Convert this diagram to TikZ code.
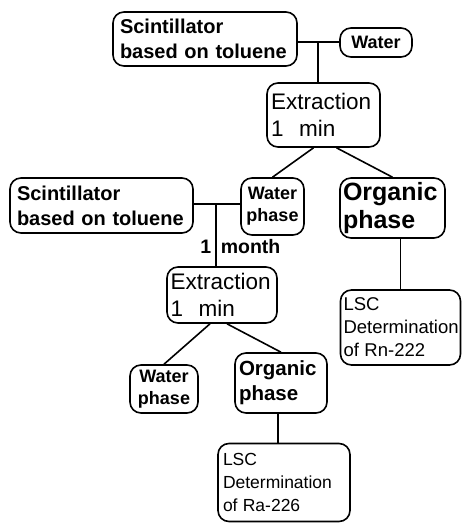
\documentclass[tikz,border=0pt]{standalone}
\usepackage{fontspec}
\setmainfont{Liberation Sans}
\begin{document}
\begin{tikzpicture}[x=1pt,y=-1pt,line width=1.6pt,
  box/.style={draw,rounded corners=11pt,inner xsep=6pt,inner ysep=2pt,align=left},
  bigb/.style={font=\bfseries\fontsize{20}{25}\selectfont},
  exf/.style={font=\fontsize{22.5}{27}\selectfont},
  smb/.style={font=\bfseries\fontsize{18}{22}\selectfont},
  lscf/.style={font=\fontsize{18.5}{23}\selectfont},
  lbl/.style={font=\bfseries\fontsize{19.5}{20}\selectfont,inner sep=1pt}]
\useasboundingbox (0,0) rectangle (462,523);
% nodes
\node[box,bigb,minimum width=184,minimum height=54,text width=170] (s1) at (205,39) {Scintillator\\based on toluene};
\node[box,font=\bfseries\fontsize{18}{20}\selectfont,minimum width=72,minimum height=29,inner xsep=4pt,align=center] (water) at (376,42.5) {Water};
\node[box,exf,minimum width=113,minimum height=64,text width=105,inner xsep=4pt] (ex1) at (323.5,115) {Extraction\\1\hspace{0.7em}min};
\node[box,smb,minimum width=63,minimum height=57,inner xsep=2pt,align=center] (wp1) at (272.5,206.5) {Water\\phase};
\node[box,font=\bfseries\fontsize{25}{28}\selectfont,minimum width=105,minimum height=60,text width=99,inner xsep=3pt] (op1) at (392.5,208) {Organic\\phase};
\node[box,bigb,minimum width=183,minimum height=55,text width=169] (s2) at (101.5,205.5) {Scintillator\\based on toluene};
\node[box,exf,minimum width=110,minimum height=56,text width=103,inner xsep=3.5pt] (ex2) at (222,295) {Extraction\\1\hspace{0.7em}min};
\node[box,lscf,minimum width=120,minimum height=75,text width=114,inner xsep=3pt] (lsc1) at (400.5,327.5) {LSC\\Determination\\of\hspace{0.3em}Rn-222};
\node[box,smb,minimum width=68,minimum height=48,inner xsep=4pt,align=center] (wp2) at (164,389) {Water\\phase};
\node[box,font=\bfseries\fontsize{20.5}{25}\selectfont,minimum width=92,minimum height=60,text width=84,inner xsep=4pt] (op2) at (281,383) {Organic\\phase};
\node[box,font=\fontsize{17.5}{23}\selectfont,minimum width=132,minimum height=78,text width=122,inner xsep=5pt] (lsc2) at (284,482.5) {LSC\\Determination\\of\hspace{0.3em}Ra-226};
% junctions
\coordinate (j1) at (318,42);
\coordinate (j2) at (216,204);
% connectors
\draw (j1 -| s1.east) -- (j1 -| water.west);
\draw (j1) -- (j1 |- ex1.north);
\draw ([xshift=-10pt]ex1.south) -- (wp1.north);
\draw ([xshift=13pt]ex1.south) -- (op1.north);
\draw (j2 -| s2.east) -- (j2 -| wp1.west);
\draw (j2) -- (j2 |- ex2.north);
\node[lbl,anchor=east] (one) at (213,247) {1};
\node[lbl,anchor=west] (month) at (219,247) {month};
\draw ([xshift=-12pt]ex2.south) -- (wp2.north);
\draw ([xshift=5pt]ex2.south) -- (op2.north);
\draw (lsc1.north |- op1.south) -- (lsc1.north);
\draw ([xshift=-3pt]op2.south) -- ([xshift=-3pt]op2.south |- lsc2.north);
\end{tikzpicture}
\end{document}
